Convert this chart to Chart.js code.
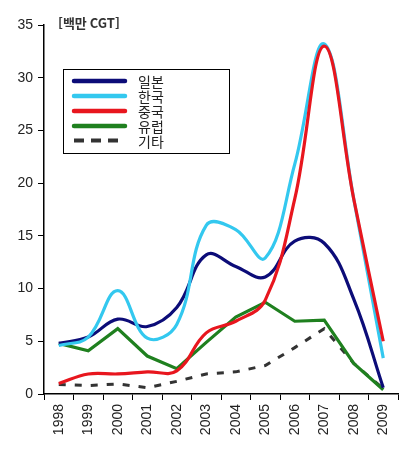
<!DOCTYPE html>
<html lang="ko">
<head>
    <meta charset="UTF-8">
    <title>선박 수주량</title>
    <script src="https://cdn.jsdelivr.net/npm/chart.js"></script>
    <style>
        html, body { margin: 0; padding: 0; background: #fff; }
        #wrap { width: 418px; height: 450px; }
    </style>
</head>
<body>
    <div id="wrap"><canvas id="grafico" width="418" height="450"></canvas></div>

    <script>
        // 데이터 (백만 CGT)
        const anos = ['1998', '1999', '2000', '2001', '2002', '2003', '2004', '2005', '2006', '2007', '2008', '2009'];
        const japao  = [4.8, 5.4, 7.1, 6.4, 8.2, 13.2, 12.1, 11.1, 14.5, 14.3, 9.0, 0.6];
        const coreia = [4.6, 5.4, 9.8, 5.3, 6.6, 16.0, 15.6, 12.9, 21.8, 33.2, 18.5, 3.4];
        const china  = [1.0, 1.9, 1.9, 2.1, 2.2, 5.8, 6.9, 8.9, 18.5, 33.0, 18.5, 5.0];
        const europa = [4.8, 4.1, 6.2, 3.6, 2.4, 4.9, 7.3, 8.7, 6.9, 7.0, 2.9, 0.4];
        const outros = [0.9, 0.8, 0.95, 0.6, 1.2, 1.9, 2.1, 2.7, 4.4, 6.2, 2.9, 0.5];
        const nomes = ['일본', '한국', '중국', '유럽', '기타'];
        const cores = ['#0c0c78', '#33c8ef', '#e8161e', '#1f801f', '#333333'];

        // legenda desenhada dentro do gráfico
        const legendaPlugin = {
            id: 'legenda',
            afterDraw(chart) {
                const ctx = chart.ctx;
                ctx.save();
                ctx.setTransform(1, 0, 0, 1, 0, 0);
                ctx.direction = 'ltr';
                ctx.strokeStyle = '#000';
                ctx.lineWidth = 1;
                ctx.setLineDash([]);
                ctx.strokeRect(63.5, 69.5, 166, 84);
                const linhas = [81, 96, 111, 126, 140.5];
                chart.data.datasets.forEach((ds, i) => {
                    ctx.beginPath();
                    ctx.strokeStyle = ds.borderColor;
                    if (ds.borderDash && ds.borderDash.length) {
                        ctx.setLineDash([10, 7]);
                        ctx.lineCap = 'butt';
                        ctx.lineWidth = 4;
                    } else {
                        ctx.setLineDash([]);
                        ctx.lineCap = 'round';
                        ctx.lineWidth = 4.5;
                    }
                    ctx.moveTo(74, linhas[i]);
                    ctx.lineTo(125, linhas[i]);
                    ctx.stroke();
                });
                ctx.setLineDash([]);
                ctx.fillStyle = '#222';
                ctx.font = '14px "Noto Sans CJK KR"';
                ctx.textAlign = 'left';
                ctx.textBaseline = 'middle';
                chart.data.datasets.forEach((ds, i) => {
                    ctx.fillText(ds.label, 138, linhas[i] + 1);
                });
                // unidade
                ctx.fillStyle = '#333';
                ctx.font = 'bold 13px "Noto Sans CJK KR"';
                ctx.fillText('[백만 CGT]', 58, 23);
                ctx.restore();
            }
        };

        const series = [japao, coreia, china, europa, outros];
        const datasets = series.map((valores, i) => ({
            label: nomes[i],
            data: valores,
            borderColor: cores[i],
            backgroundColor: cores[i],
            borderWidth: i === 4 ? 3 : 3.2,
            borderDash: i === 4 ? [7, 9] : [],
            tension: (i === 3 || i === 4) ? 0 : 0.4,
            pointRadius: 0,
            fill: false
        }));
        // ordem de desenho: o vermelho por cima do azul claro
        datasets[0].order = 3;
        datasets[1].order = 2;
        datasets[2].order = 1;
        datasets[3].order = 4;
        datasets[4].order = 5;

        new Chart(document.getElementById('grafico').getContext('2d'), {
            type: 'line',
            data: { labels: anos, datasets: datasets },
            options: {
                responsive: false,
                animation: false,
                layout: { padding: { top: 25, right: 20, left: 0, bottom: 0 } },
                plugins: {
                    legend: { display: false },
                    tooltip: { enabled: false }
                },
                scales: {
                    x: {
                        offset: true,
                        grid: { display: true, offset: true, drawOnChartArea: false, tickLength: 6, color: '#000' },
                        border: { display: true, color: '#000', width: 1.5 },
                        ticks: {
                            minRotation: 90, maxRotation: 90, autoSkip: false,
                            color: '#222', font: { family: 'Liberation Sans', size: 14 }, padding: 4
                        },
                        afterFit(scale) { scale.height = 56; }
                    },
                    y: {
                        min: 0, max: 35,
                        grid: { display: true, drawOnChartArea: false, tickLength: 6, color: '#000' },
                        border: { display: true, color: '#000', width: 1.5 },
                        ticks: {
                            stepSize: 5, color: '#222',
                            font: { family: 'Liberation Sans', size: 14 }, padding: 5
                        },
                        afterFit(scale) { scale.width = 44; }
                    }
                }
            },
            plugins: [legendaPlugin]
        });
    </script>
</body>
</html>
